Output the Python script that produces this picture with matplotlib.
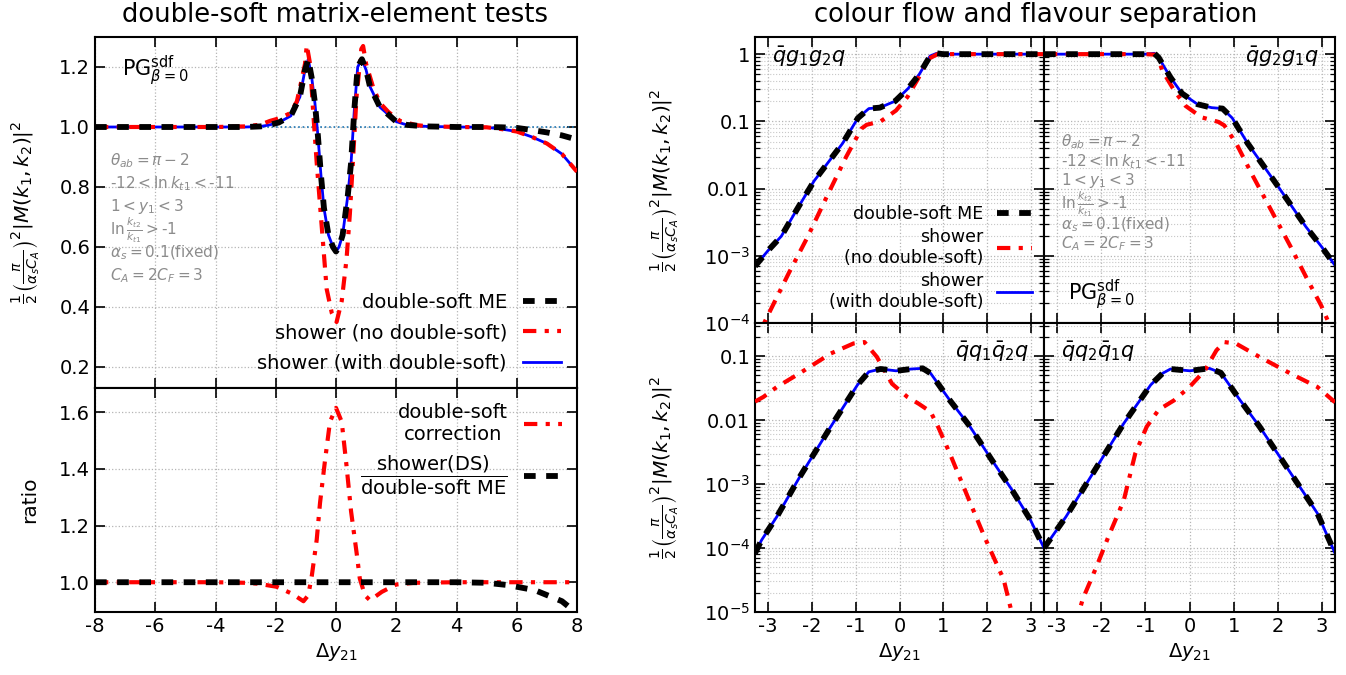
import numpy as np
import matplotlib
matplotlib.use('Agg')
import matplotlib.pyplot as plt
from matplotlib.ticker import FixedLocator, FixedFormatter, LogLocator, NullFormatter, MultipleLocator

plt.rcParams['font.family'] = ['DejaVu Sans']
plt.rcParams['axes.unicode_minus'] = False
plt.rcParams['mathtext.fontset'] = 'dejavusans'

# ---------------- data: left panel (double-soft ME tests) ----------------
x_me = [-8, -6, -4, -3, -2.5, -2.2, -1.9, -1.5, -1.2, -1.03, -0.92, -0.8, -0.7, -0.6, -0.5, -0.4,
        -0.25, -0.1, 0.0, 0.1, 0.22, 0.39, 0.5, 0.61, 0.72, 0.86, 1.0, 1.13, 1.46, 2.0, 2.35, 3.0,
        4.0, 5.0, 5.5, 6.0, 6.5, 7.0, 7.5, 8.0]
me_vals = [1.0, 1.0, 1.0, 1.0, 1.002, 1.007, 1.015, 1.037, 1.10, 1.19, 1.226, 1.16, 1.08, 0.97, 0.84, 0.73,
           0.64, 0.60, 0.585, 0.60, 0.64, 0.77, 0.88, 1.06, 1.20, 1.226, 1.19, 1.134, 1.066, 1.018, 1.007, 1.002,
           1.0, 1.0, 0.999, 0.997, 0.99, 0.982, 0.972, 0.958]
ds_vals = [1.0, 1.0, 1.0, 1.0, 1.002, 1.007, 1.015, 1.037, 1.10, 1.19, 1.226, 1.16, 1.08, 0.97, 0.84, 0.73,
           0.64, 0.60, 0.585, 0.60, 0.64, 0.77, 0.88, 1.06, 1.20, 1.226, 1.19, 1.134, 1.066, 1.018, 1.007, 1.002,
           1.0, 0.999, 0.993, 0.985, 0.967, 0.945, 0.91, 0.851]
x_nods = [-8, -6, -4, -3, -2.5, -2.2, -1.85, -1.52, -1.3, -1.19, -1.03, -0.97, -0.86, -0.75, -0.64, -0.53,
          -0.42, -0.31, -0.14, 0.02, 0.19, 0.35, 0.46, 0.57, 0.68, 0.84, 0.9, 1.0, 1.24, 1.46, 1.74, 2.13,
          2.68, 3.0, 4.0, 5.0, 5.5, 6.0, 6.5, 7.0, 7.5, 8.0]
nods_vals = [1.0, 1.0, 1.0, 1.002, 1.008, 1.02, 1.03, 1.046, 1.085, 1.134, 1.21, 1.273, 1.21, 1.04, 0.88, 0.74,
             0.60, 0.46, 0.38, 0.35, 0.42, 0.56, 0.71, 0.90, 1.10, 1.26, 1.27, 1.21, 1.13, 1.08, 1.05, 1.02,
             1.006, 1.003, 1.0, 0.999, 0.993, 0.985, 0.967, 0.945, 0.91, 0.851]

x_corr = [-8, -4, -3, -2.6, -1.97, -1.47, -1.08, -0.92, -0.8, -0.64, -0.53, -0.37, -0.2, 0.0, 0.19,
          0.35, 0.5, 0.68, 0.79, 0.96, 1.13, 1.52, 2.0, 2.6, 4.0, 8.0]
corr_vals = [1.0, 1.0, 0.998, 0.995, 0.984, 0.96, 0.933, 0.954, 1.025, 1.15, 1.28, 1.425, 1.566, 1.615, 1.566,
             1.41, 1.25, 1.107, 1.013, 0.954, 0.936, 0.966, 0.992, 0.998, 1.0, 1.0]
x_ratio = [-8, -4, 0, 4, 5.0, 5.7, 6.6, 7.5, 8.0]
ratio_vals = [1.0, 1.0, 1.0, 1.0, 0.998, 0.99, 0.972, 0.933, 0.89]

# ---------------- data: right panels (colour flow) ----------------
# qbar g1 g2 q
x_g12 = [-3.3, -3.0, -2.7, -2.35, -1.95, -1.3, -0.95, -0.7, -0.45, -0.1, 0.2, 0.45, 0.7, 0.85, 1.0, 1.5,
         2.0, 2.5, 3.0, 3.3]
g12_me = [7.0e-4, 1.2e-3, 1.95e-3, 4.8e-3, 1.3e-2, 4.7e-2, 0.112, 0.155, 0.16, 0.2, 0.31, 0.5, 0.94, 1.03,
          1.0, 1.0, 1.0, 1.0, 1.0, 1.0]
g12_ds = g12_me
x_g12_nods = [-3.3, -3.06, -2.79, -2.53, -2.1, -1.66, -1.22, -0.87, -0.75, -0.43, -0.08, 0.18, 0.44, 0.66,
              0.88, 1.0, 2.0, 3.3]
g12_nods = [5.0e-5, 1.1e-4, 2.5e-4, 5.5e-4, 1.9e-3, 7.6e-3, 2.95e-2, 7.8e-2, 8.9e-2, 0.1, 0.145, 0.23, 0.45,
            0.85, 1.01, 1.0, 1.0, 1.0]
# qbar g2 g1 q
x_g21 = [-3.3, -2.0, -1.0, -0.8, -0.7, -0.43, -0.17, 0.18, 0.5, 0.75, 0.97, 1.32, 2.02, 2.64, 2.99, 3.3]
g21_me = [1.0, 1.0, 1.0, 1.03, 0.89, 0.45, 0.26, 0.18, 0.16, 0.155, 0.112, 4.7e-2, 1.05e-2, 2.7e-3,
          1.38e-3, 7.2e-4]
g21_ds = g21_me
x_g21_nods = [-3.3, -1.0, -0.75, -0.61, -0.35, -0.09, 0.27, 0.66, 0.79, 1.06, 1.41, 1.85, 2.29, 2.64, 2.99,
              3.16, 3.3]
g21_nods = [1.0, 1.0, 0.98, 0.56, 0.29, 0.17, 0.115, 0.098, 0.087, 0.047, 0.0166, 0.0048, 0.00138, 4.9e-4,
            1.8e-4, 1.0e-4, 5.0e-5]
# qbar q1 qbar2 q
x_q12 = [-3.3, -3.15, -2.8, -2.28, -1.57, -0.96, -0.7, -0.43, -0.08, 0.27, 0.53, 0.71, 1.15, 1.59, 2.11,
         2.55, 2.99, 3.3]
q12_me = [8.3e-5, 1.33e-4, 3.1e-4, 1.29e-3, 7.9e-3, 3.55e-2, 5.7e-2, 6.3e-2, 5.9e-2, 6.3e-2, 6.45e-2,
          5.4e-2, 2.04e-2, 8.3e-3, 2.37e-3, 8.5e-4, 2.75e-4, 1.0e-4]
q12_ds = q12_me
x_q12_nods = [-3.3, -3.11, -2.8, -2.28, -1.57, -1.05, -0.8, -0.52, -0.17, 0.18, 0.44, 0.71, 0.88, 1.15,
              1.59, 1.94, 2.38, 2.55, 2.7]
q12_nods = [0.0195, 0.023, 0.033, 0.054, 0.11, 0.158, 0.166, 0.098, 0.037, 0.023, 0.018, 0.0135, 0.0079,
            0.003, 5.6e-4, 1.5e-4, 3.2e-5, 1.07e-5, 5.0e-6]
# qbar q2 qbar1 q
x_q21 = [-3.3, -2.8, -2.19, -1.49, -0.88, -0.61, -0.43, 0.01, 0.45, 0.71, 1.15, 1.59, 2.2, 2.9, 3.3]
q21_me = [1.0e-4, 3.1e-4, 1.48e-3, 8.9e-3, 3.55e-2, 5.4e-2, 6.3e-2, 5.9e-2, 6.45e-2, 5.5e-2, 2.04e-2,
          7.9e-3, 1.86e-3, 3.5e-4, 8.3e-5]
q21_ds = q21_me
x_q21_nods = [-2.6, -2.42, -2.11, -1.84, -1.49, -1.23, -0.97, -0.70, -0.35, 0.0, 0.35, 0.61, 0.79, 1.05,
              1.58, 2.28, 2.90, 3.25, 3.3]
q21_nods = [6.0e-6, 1.6e-5, 5.1e-5, 1.5e-4, 5.6e-4, 3.0e-3, 7.9e-3, 1.45e-2, 2.04e-2, 3.3e-2, 6.0e-2,
            0.123, 0.166, 0.158, 0.098, 0.054, 0.033, 0.0204, 0.019]

lin_yticks_top = [0.2, 0.4, 0.6, 0.8, 1.0, 1.2]
lin_yticks_ratio = [1.0, 1.2, 1.4, 1.6]
lin_xticks = [-8, -6, -4, -2, 0, 2, 4, 6, 8]
log_xticks = [-3, -2, -1, 0, 1, 2, 3]
log_yticks_top = [1e-4, 1e-3, 1e-2, 1e-1, 1]
log_ylabels_top = ['$10^{-4}$', '$10^{-3}$', '0.01', '0.1', '1']
log_yticks_bot = [1e-5, 1e-4, 1e-3, 1e-2, 1e-1]
log_ylabels_bot = ['$10^{-5}$', '$10^{-4}$', '$10^{-3}$', '0.01', '0.1']

# ---------------- figure ----------------
W, H = 1346, 675
fig = plt.figure(figsize=(W / 100, H / 100), dpi=100)


def rect(x0, y0, x1, y1):
    return [x0 / W, 1 - y1 / H, (x1 - x0) / W, (y1 - y0) / H]


ME_STYLE = dict(color='black', lw=4.2, ls=(0, (2.0, 1.8)), zorder=4)
NODS_STYLE = dict(color='red', lw=3.0, ls=(0, (3.2, 2.0, 1.0, 2.0)), zorder=3)
DS_STYLE = dict(color='blue', lw=2.0, ls='-', zorder=2)
TICK = 14
GREY = '#8c8c8c'
YLAB = r'$\frac{1}{2}\left(\frac{\pi}{\alpha_s C_A}\right)^2|M(k_1,k_2)|^2$'


def style_axes(ax, minor_grid=False):
    ax.tick_params(which='both', direction='in', top=True, right=True, labelsize=TICK)
    ax.tick_params(which='major', length=7, width=1.2)
    ax.tick_params(which='minor', length=3.5, width=0.9)
    for s in ax.spines.values():
        s.set_linewidth(1.5)
    ax.grid(True, which='major', ls=':', color='#b5b5b5', lw=0.9)
    if minor_grid:
        ax.grid(True, which='minor', axis='y', ls=':', color='#c8c8c8', lw=0.8)
    ax.set_axisbelow(True)


ax_me = fig.add_axes(rect(95, 37, 577, 388))
ax_ra = fig.add_axes(rect(95, 388, 577, 612), sharex=ax_me)
ax_tl = fig.add_axes(rect(755, 37, 1044, 323))
ax_tr = fig.add_axes(rect(1044, 37, 1335, 323), sharey=ax_tl)
ax_bl = fig.add_axes(rect(755, 323, 1044, 612), sharex=ax_tl)
ax_br = fig.add_axes(rect(1044, 323, 1335, 612), sharey=ax_bl, sharex=ax_tr)

# ---- left top ----
ax_me.axhline(1.0, color='#1f77b4', ls=':', lw=1.2, zorder=1)
l_ds, = ax_me.plot(x_me, ds_vals, **DS_STYLE)
l_nods, = ax_me.plot(x_nods, nods_vals, **NODS_STYLE)
l_me, = ax_me.plot(x_me, me_vals, **ME_STYLE)
ax_me.set_xlim(-8, 8)
ax_me.set_ylim(0.13, 1.3)
ax_me.yaxis.set_major_locator(FixedLocator(lin_yticks_top))
ax_me.xaxis.set_major_locator(FixedLocator(lin_xticks))
style_axes(ax_me)
ax_me.tick_params(labelbottom=False)
ax_me.set_ylabel(YLAB, fontsize=14.5)
ax_me.yaxis.set_label_coords(-0.11, 0.5)
leg = ax_me.legend([l_me, l_nods, l_ds],
                   ['double-soft ME', 'shower (no double-soft)', 'shower (with double-soft)'],
                   loc='lower right', frameon=False, markerfirst=False, fontsize=14,
                   handlelength=2.0, handletextpad=0.8, labelspacing=0.58, borderaxespad=0.4)

ax_me.text(0.055, 0.905, r'PG$^{\rm sdf}_{\beta=0}$', transform=ax_me.transAxes, fontsize=15,
           va='center', ha='left')

# grey parameter block
param_lines = [r'$\theta_{ab}=\pi-2$', r'-12$<\ln k_{t1}<$-11', r'$1<y_1<3$',
               r'$\ln\frac{k_{t2}}{k_{t1}}>$-1', r'$\alpha_s=0.1$(fixed)', r'$C_A=2C_F=3$']
left_block_y = [161, 184, 207, 230, 253, 276]
for s, yy in zip(param_lines, left_block_y):
    fig.text(110 / W, 1 - yy / H, s, fontsize=11, color=GREY, ha='left', va='center')

# ---- left ratio ----
l_corr, = ax_ra.plot(x_corr, corr_vals, **NODS_STYLE)
l_rat, = ax_ra.plot(x_ratio, ratio_vals, **ME_STYLE)
ax_ra.set_ylim(0.895, 1.685)
ax_ra.yaxis.set_major_locator(FixedLocator(lin_yticks_ratio))
style_axes(ax_ra)
ax_ra.set_ylabel('ratio', fontsize=14.5)
ax_ra.yaxis.set_label_coords(-0.115, 0.5)
ax_ra.set_xlabel(r'$\Delta y_{21}$', fontsize=14)
leg2 = ax_ra.legend([l_corr, l_rat],
                    ['double-soft\ncorrection',
                     r'$\dfrac{\mathrm{shower(DS)}}{\mathrm{double‐soft\ ME}}$'],
                    loc='upper right', frameon=False, markerfirst=False, fontsize=14,
                    handlelength=2.0, handletextpad=0.8, labelspacing=0.55, borderaxespad=0.35)
for t in leg2.get_texts():
    t.set_multialignment('center')

# ---- right panels ----
panels = [
    (ax_tl, x_g12, g12_me, g12_ds, x_g12_nods, g12_nods),
    (ax_tr, x_g21, g21_me, g21_ds, x_g21_nods, g21_nods),
    (ax_bl, x_q12, q12_me, q12_ds, x_q12_nods, q12_nods),
    (ax_br, x_q21, q21_me, q21_ds, x_q21_nods, q21_nods),
]
handles = None
for ax, xx, me, ds, xn, nd in panels:
    h_ds, = ax.plot(xx, ds, **DS_STYLE)
    h_nd, = ax.plot(xn, nd, **NODS_STYLE)
    h_me, = ax.plot(xx, me, **ME_STYLE)
    ax.set_yscale('log')
    ax.set_xlim(-3.3, 3.3)
    ax.xaxis.set_major_locator(FixedLocator(log_xticks))
    style_axes(ax, minor_grid=True)
    if handles is None:
        handles = [h_me, h_nd, h_ds]

for ax in (ax_tl, ax_tr):
    ax.set_ylim(1e-4, 1.8)
for ax in (ax_bl, ax_br):
    ax.set_ylim(1e-5, 0.33)

ax_tl.yaxis.set_major_locator(FixedLocator(log_yticks_top))
ax_tl.yaxis.set_major_formatter(FixedFormatter(log_ylabels_top))
ax_bl.yaxis.set_major_locator(FixedLocator(log_yticks_bot))
ax_bl.yaxis.set_major_formatter(FixedFormatter(log_ylabels_bot))
for ax in (ax_tl, ax_bl):
    ax.yaxis.set_minor_locator(LogLocator(base=10, subs=np.arange(2, 10), numticks=20))
    ax.yaxis.set_minor_formatter(NullFormatter())
for ax in (ax_tr, ax_br):
    ax.tick_params(labelleft=False)
for ax in (ax_tl, ax_tr):
    ax.tick_params(labelbottom=False)
for ax in (ax_bl, ax_br):
    ax.set_xlabel(r'$\Delta y_{21}$', fontsize=14)

ax_tl.set_ylabel(YLAB, fontsize=14.5)
ax_bl.set_ylabel(YLAB, fontsize=14.5)
ax_tl.yaxis.set_label_coords(-0.255, 0.5)
ax_bl.yaxis.set_label_coords(-0.255, 0.5)

leg3 = ax_tl.legend(handles, ['double-soft ME', 'shower\n(no double-soft)', 'shower\n(with double-soft)'],
                    loc='lower right', frameon=False, markerfirst=False, fontsize=12.5,
                    handlelength=2.0, handletextpad=0.8, labelspacing=0.3, borderaxespad=0.3)
for t in leg3.get_texts():
    t.set_multialignment('right')

fs_lab = 15
ax_tl.text(0.06, 0.93, r'$\bar{q}g_1g_2q$', transform=ax_tl.transAxes, fontsize=fs_lab, ha='left', va='center')
ax_tr.text(0.945, 0.93, r'$\bar{q}g_2g_1q$', transform=ax_tr.transAxes, fontsize=fs_lab, ha='right', va='center')
ax_bl.text(0.95, 0.9, r'$\bar{q}q_1\bar{q}_2q$', transform=ax_bl.transAxes, fontsize=fs_lab, ha='right', va='center')
ax_br.text(0.06, 0.9, r'$\bar{q}q_2\bar{q}_1q$', transform=ax_br.transAxes, fontsize=fs_lab, ha='left', va='center')

right_block_y = [142, 162, 181, 204, 225, 244]
for s, yy in zip(param_lines, right_block_y):
    fig.text(1061 / W, 1 - yy / H, s, fontsize=11, color=GREY, ha='left', va='center')
fig.text(1068 / W, 1 - 295 / H, r'PG$^{\rm sdf}_{\beta=0}$', fontsize=15, ha='left', va='center')

# titles
fig.text(335 / W, 1 - 15 / H, 'double-soft matrix-element tests', fontsize=18.6, ha='center', va='center')
fig.text(1036 / W, 1 - 15 / H, 'colour flow and flavour separation', fontsize=18.6, ha='center', va='center')

fig.savefig('out.png', dpi=100)
